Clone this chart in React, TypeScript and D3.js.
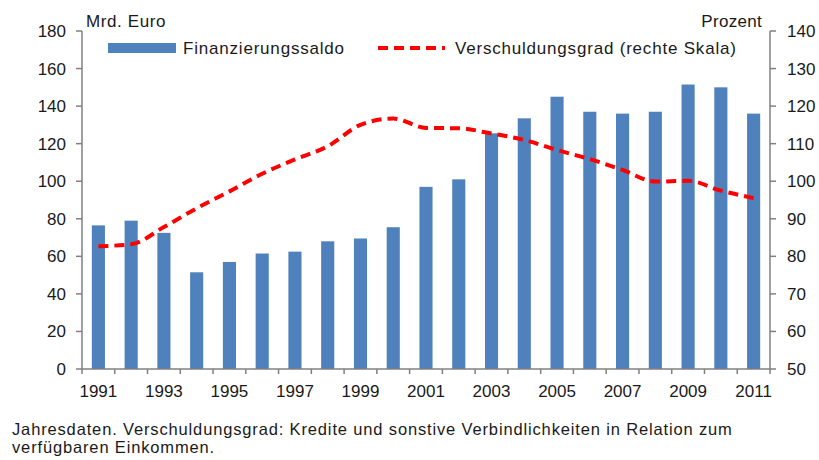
import React, { useEffect, useRef } from "react";
import * as d3 from "d3";

const years = [1991, 1992, 1993, 1994, 1995, 1996, 1997, 1998, 1999, 2000, 2001,
  2002, 2003, 2004, 2005, 2006, 2007, 2008, 2009, 2010, 2011];
const saldo = [76.5, 79, 72.5, 51.5, 57, 61.5, 62.5, 68, 69.5, 75.5, 97,
  101, 125.5, 133.5, 145, 137, 136, 137, 151.5, 150, 136];
const verschuldung = [82.7, 83.2, 87.8, 92.8, 97.3, 102, 105.8, 109.3, 115, 116.7, 114.2,
  114.1, 112.7, 111, 108.3, 105.9, 103, 99.9, 100.1, 97.5, 95.5];
const leftTicks = [0, 20, 40, 60, 80, 100, 120, 140, 160, 180];
const rightTicks = [50, 60, 70, 80, 90, 100, 110, 120, 130, 140];
const footnote = [
  "Jahresdaten. Verschuldungsgrad: Kredite und sonstive Verbindlichkeiten in Relation zum",
  "verfügbaren Einkommen.",
];

const W = 819;
const H = 460;
const margin = { left: 82, right: 49, top: 31, bottom: 91 };
const font = "'Liberation Sans', Arial, sans-serif";
const axisColor = "#808080";
const textColor = "#1a1a1a";

const App = () => {
  const svgRef = useRef<SVGSVGElement>(null);

  useEffect(() => {
    const svg = d3.select(svgRef.current);
    svg.selectAll("*").remove();

    const x0 = margin.left;
    const x1 = W - margin.right;
    const y0 = H - margin.bottom;
    const y1 = margin.top;

    const x = d3.scaleBand<number>().domain(years).range([x0, x1]).paddingInner(0).paddingOuter(0);
    const yL = d3.scaleLinear().domain([0, 180]).range([y0, y1]);
    const yR = d3.scaleLinear().domain([50, 140]).range([y0, y1]);
    const bw = x.bandwidth() * 0.4;

    // bars
    svg.append("g")
      .selectAll("rect")
      .data(years)
      .enter()
      .append("rect")
      .attr("x", (d) => x(d)! + x.bandwidth() / 2 - bw / 2)
      .attr("y", (d, i) => yL(saldo[i]))
      .attr("width", bw)
      .attr("height", (d, i) => y0 - yL(saldo[i]))
      .attr("fill", "#4f81bd");

    // line
    const line = d3.line<number>()
      .x((d, i) => x(years[i])! + x.bandwidth() / 2)
      .y((d) => yR(d))
      .curve(d3.curveMonotoneX);
    svg.append("path")
      .attr("d", line(verschuldung))
      .attr("fill", "none")
      .attr("stroke", "#ff0000")
      .attr("stroke-width", 4)
      .attr("stroke-dasharray", "10 6");

    // axes
    const ax = svg.append("g").attr("stroke", axisColor).attr("stroke-width", 1.5);
    ax.append("line").attr("x1", x0).attr("x2", x0).attr("y1", y1).attr("y2", y0);
    ax.append("line").attr("x1", x1).attr("x2", x1).attr("y1", y1).attr("y2", y0);
    ax.append("line").attr("x1", x0).attr("x2", x1).attr("y1", y0).attr("y2", y0);
    leftTicks.forEach((t) => {
      ax.append("line").attr("x1", x0 - 6).attr("x2", x0).attr("y1", yL(t)).attr("y2", yL(t));
    });
    rightTicks.forEach((t) => {
      ax.append("line").attr("x1", x1).attr("x2", x1 + 6).attr("y1", yR(t)).attr("y2", yR(t));
    });
    years.forEach((yr) => {
      ax.append("line").attr("x1", x(yr)!).attr("x2", x(yr)!).attr("y1", y0).attr("y2", y0 + 5);
    });
    ax.append("line").attr("x1", x1).attr("x2", x1).attr("y1", y0).attr("y2", y0 + 5);

    const txt = svg.append("g").attr("font-family", font).attr("fill", textColor).attr("font-size", 17);
    leftTicks.forEach((t) => {
      txt.append("text").attr("x", x0 - 16).attr("y", yL(t) + 6).attr("text-anchor", "end").text(t);
    });
    rightTicks.forEach((t) => {
      txt.append("text").attr("x", x1 + 17).attr("y", yR(t) + 6).text(t);
    });
    years.filter((yr, i) => i % 2 === 0).forEach((yr) => {
      txt.append("text").attr("x", x(yr)! + x.bandwidth() / 2).attr("y", y0 + 28)
        .attr("text-anchor", "middle").text(yr);
    });
    txt.append("text").attr("x", 86).attr("y", 27).attr("letter-spacing", 0.6).text("Mrd. Euro");
    txt.append("text").attr("x", 762).attr("y", 27).attr("text-anchor", "end")
      .attr("letter-spacing", 0.3).text("Prozent");

    // legend
    svg.append("rect").attr("x", 108).attr("y", 43).attr("width", 68).attr("height", 10).attr("fill", "#4f81bd");
    txt.append("text").attr("x", 183).attr("y", 54).attr("letter-spacing", 0.8).text("Finanzierungssaldo");
    svg.append("line").attr("x1", 378).attr("x2", 445).attr("y1", 48).attr("y2", 48)
      .attr("stroke", "#ff0000").attr("stroke-width", 4).attr("stroke-dasharray", "10 6");
    txt.append("text").attr("x", 455).attr("y", 54).attr("letter-spacing", 0.8)
      .text("Verschuldungsgrad (rechte Skala)");

    // footnote
    const fn = svg.append("g").attr("font-family", font).attr("fill", textColor)
      .attr("font-size", 16.5).attr("letter-spacing", 0.85);
    footnote.forEach((l, i) => {
      fn.append("text").attr("x", 12).attr("y", 435 + i * 18).text(l);
    });
  }, []);

  return (
    <svg ref={svgRef} width={W} height={H}
      style={{ position: "absolute", left: 0, top: 0, background: "#fff" }} />
  );
};

export default App;
